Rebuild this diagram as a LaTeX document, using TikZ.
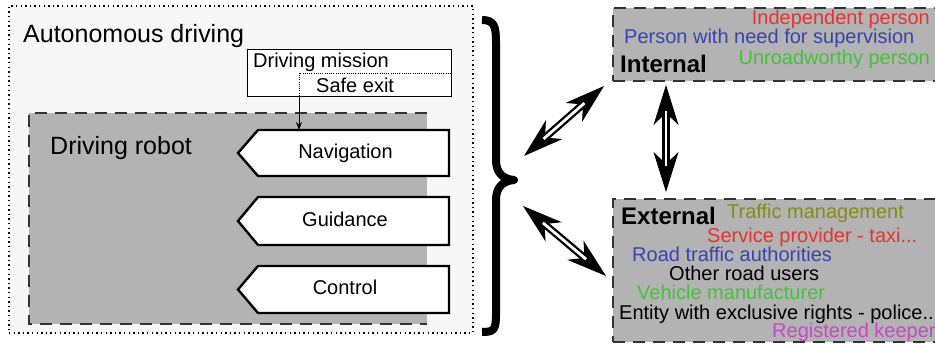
\documentclass[tikz,border=0pt]{standalone}
\usepackage{fontspec}
\setmainfont{Liberation Sans}
\usetikzlibrary{arrows.meta}
\definecolor{cred}{RGB}{228,52,48}
\definecolor{cblue}{RGB}{58,68,170}
\definecolor{cgreen}{RGB}{72,192,62}
\definecolor{colive}{RGB}{132,140,22}
\definecolor{cmag}{RGB}{200,72,200}
\definecolor{boxgray}{RGB}{179,179,179}
\definecolor{bggray}{RGB}{247,247,247}
\tikzset{
  txt/.style={inner sep=0pt, font=\fontsize{20}{24}\selectfont},
  bigtxt/.style={inner sep=0pt, font=\fontsize{25}{30}\selectfont},
  boldtxt/.style={inner sep=0pt, font=\fontsize{24}{28}\selectfont\bfseries},
  dashbox/.style={draw=black!80, line width=2pt, dash pattern=on 12pt off 8pt, fill=boxgray},
  penta/.style={draw=black, line width=2.4pt, fill=white, line join=miter},
  heads/.style={draw=black, line width=1pt,
    {Stealth[length=40pt,width=25pt,inset=12pt]}-{Stealth[length=40pt,width=25pt,inset=12pt]}},
  shaft/.style={draw=black, line width=2.3pt, double=white, double distance=2.8pt,
    shorten <=26pt, shorten >=26pt},
  holder/.style={inner sep=0pt, outer sep=0pt}
}
\begin{document}
\begin{tikzpicture}[x=1pt,y=-1pt]
\useasboundingbox (0,0) rectangle (935,344);
\clip (0,0) rectangle (935,344);

% outer dotted box
\node[holder, draw=black, fill=bggray, line width=1.3pt, dash pattern=on 1.4pt off 3.2pt,
  minimum width=464pt, minimum height=327pt, anchor=north west] (outer) at (9,6) {};
\node[bigtxt, anchor=base west] (autot) at (23,43) {Autonomous driving};

% driving robot
\node[holder, fill=boxgray, minimum width=398pt, minimum height=211pt, anchor=north west] (robot) at (29,113) {};
\draw[draw=black!80, line width=2pt, dash pattern=on 12pt off 8pt]
  (robot.north east) -- (robot.north west) -- (robot.south west) -- (robot.south east);
\node[bigtxt, anchor=base west] (robott) at (50,155) {Driving robot};

% mission box
\node[holder, draw=black, fill=white, line width=1pt, minimum width=204pt, minimum height=47pt,
  anchor=north west] (mission) at (247,50) {};
\node[txt, anchor=base west] (missiont) at (253,68) {Driving mission};
\node[txt, anchor=base west] (safet) at (316,93) {Safe exit};

% pentagons
\node[holder, minimum width=211pt, minimum height=46pt] (nav) at (343.5,153) {};
\node[holder, minimum width=211pt, minimum height=48pt] (gui) at (343.5,221) {};
\node[holder, minimum width=211pt, minimum height=47pt] (ctl) at (343.5,289.5) {};
\foreach \n in {nav,gui,ctl}{
  \draw[penta] ([xshift=20pt]\n.north west) -- (\n.north east) -- (\n.south east)
    -- ([xshift=20pt]\n.south west) -- (\n.west) -- cycle;
}
\node[txt, anchor=base] (navt) at (345.5,159) {Navigation};
\node[txt, anchor=base] (guit) at (345,227) {Guidance};
\node[txt, anchor=base] (ctlt) at (345,295) {Control};

% mission -> navigation
\coordinate (drop) at (299,73);
\draw[line width=0.9pt, dash pattern=on 1pt off 1.2pt] (drop -| mission.east) -- (drop) -- (drop |- mission.south);
\draw[line width=0.9pt, -{Stealth[length=8pt,width=6pt]}] (drop |- mission.south) -- (drop |- nav.north);

% brace
\draw[line width=8pt, line join=round] (482,20) .. controls (494,20) and (496,26) .. (496,42)
  -- (496,160) .. controls (496,172) and (502,179) .. (514,180)
  .. controls (502,181) and (496,188) .. (496,200)
  -- (496,314) .. controls (496,330) and (494,332) .. (482,332);

% internal box
\node[holder, dashbox, minimum width=330pt, minimum height=73pt, anchor=north west] (int) at (613,8) {};
\node[txt, anchor=base east, text=cred] (indep) at (930,25) {Independent person};
\node[txt, anchor=base west, text=cblue] (superv) at (624,44) {Person with need for supervision};
\node[boldtxt, anchor=base west] (intt) at (620,73) {Internal};
\node[txt, anchor=base east, text=cgreen] (unroad) at (930,65) {Unroadworthy person};

% external box
\node[holder, dashbox, minimum width=330pt, minimum height=143pt, anchor=north west] (ext) at (613,199) {};
\node[boldtxt, anchor=base west] (extt) at (621,225) {External};
\node[txt, anchor=base west, text=colive] (traffic) at (727,219) {Traffic management};
\node[txt, anchor=base west, text=cred] (service) at (707,243) {Service provider - taxi...};
\node[txt, anchor=base west, text=cblue] (road) at (632,262) {Road traffic authorities};
\node[txt, anchor=base west] (other) at (669,281) {Other road users};
\node[txt, anchor=base west, text=cgreen] (vehicle) at (637,300) {Vehicle manufacturer};
\node[txt, anchor=base west] (entity) at (619,319.5) {Entity with exclusive rights - police..};
\node[txt, anchor=base west, text=cmag] (keeper) at (772,338) {Registered keeper};

% double arrows
\coordinate (a1s) at (524,156);
\coordinate (a1e) at (604,86);
\coordinate (a2s) at (666,85);
\coordinate (a2e) at (666,192);
\coordinate (a3s) at (523,206);
\coordinate (a3e) at (606,276);
\foreach \s/\e in {a1s/a1e, a2s/a2e, a3s/a3e}{
  \draw[heads] (\s) -- (\e);
  \draw[shaft] (\s) -- (\e);
}
\end{tikzpicture}
\end{document}
